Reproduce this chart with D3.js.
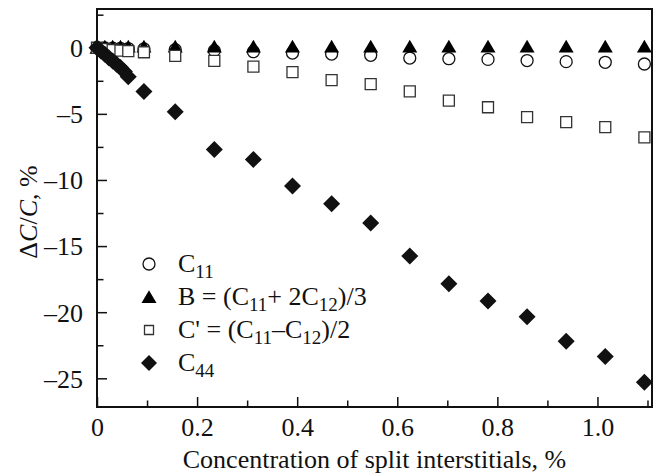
<title>Elastic constants vs split interstitials</title>
<body style="margin:0;background:#fff"></body>
<script src="https://d3js.org/d3.v7.min.js"></script>
<script>
// values
concA = [0, 0.0156, 0.0313, 0.0469, 0.0625, 0.0938, 0.1563, 0.2344, 0.3125, 0.3906, 0.4688,
         0.5469, 0.625, 0.7031, 0.7813, 0.8594, 0.9375, 1.0156, 1.0938]
c11 = [0, -0.02, -0.03, -0.05, -0.06, -0.09, -0.15, -0.22, -0.3, -0.4, -0.48,
       -0.57, -0.78, -0.83, -0.88, -0.97, -1.05, -1.1, -1.23]
bulk = [0, 0.1, 0.1, 0.1, 0.1, 0.1, 0.1, 0.1, 0.1, 0.1, 0.1,
        0.1, 0.1, 0.1, 0.1, 0.1, 0.1, 0.1, 0.1]
cprime = [0, -0.1, -0.17, -0.22, -0.25, -0.34, -0.62, -1.0, -1.43, -1.85, -2.45,
          -2.75, -3.3, -4.0, -4.5, -5.25, -5.62, -6.0, -6.78]
concB = [0, 0.0078, 0.0156, 0.0234, 0.0313, 0.0391, 0.0469, 0.0547, 0.0625, 0.0938, 0.1563,
         0.2344, 0.3125, 0.3906, 0.4688, 0.5469, 0.625, 0.7031, 0.7813, 0.8594, 0.9375, 1.0156, 1.0938]
c44 = [0, -0.25, -0.5, -0.75, -1.0, -1.25, -1.5, -1.8, -2.2, -3.3, -4.85,
       -7.7, -8.45, -10.45, -11.8, -13.25, -15.75, -17.85, -19.15, -20.35, -22.2, -23.35, -25.3]
xMajor = [0, 0.2, 0.4, 0.6, 0.8, 1.0]
xMinor = [0.1, 0.3, 0.5, 0.7, 0.9, 1.1]
yMajor = [0, -5, -10, -15, -20, -25]
yMinor = [2.5, -2.5, -7.5, -12.5, -17.5, -22.5]

W = 657, H = 474
L = 97, T = 9, R = 652, B = 407
font = '"Liberation Serif", "Times New Roman", serif'
fs = '26px', sub = '19px'

svg = d3.select('body').append('svg')
    .attr('width', W)
    .attr('height', H)
    .style('font-family', font)

x = d3.scaleLinear().domain([0, 1.109]).range([L, R])
y = d3.scaleLinear().domain([-27.17, 2.93]).range([B, T])

// marker shapes, s = size in px
function shape(kind, s) {
  const h = s / 2
  if (kind == 'circle') return `M${h},0A${h},${h} 0 1,1 ${-h},0A${h},${h} 0 1,1 ${h},0Z`
  if (kind == 'square') return `M${-h},${-h}H${h}V${h}H${-h}Z`
  if (kind == 'diamond') return `M0,${-h}L${h},0L0,${h}L${-h},0Z`
  if (kind == 'triangle') return `M0,${-h * 0.9}L${h},${h * 0.8}L${-h},${h * 0.8}Z`
}

series = [
  {name: 'c11', xs: concA, ys: c11, kind: 'circle', size: 12, fill: 'none', stroke: '#111'},
  {name: 'b', xs: concA, ys: bulk, kind: 'triangle', size: 15, fill: '#000', stroke: 'none'},
  {name: 'cp', xs: concA, ys: cprime, kind: 'square', size: 11, fill: '#fff', stroke: '#333'},
  {name: 'c44', xs: concB, ys: c44, kind: 'diamond', size: 17, fill: '#111', stroke: 'none'}
]

// axes with inward ticks
xaxis = d3.axisBottom(x).tickValues(xMajor).tickSize(-10).tickPadding(11)
    .tickFormat(d => d == 0 ? '0' : d3.format('.1f')(d))
xminor = d3.axisBottom(x).tickValues(xMinor).tickSize(-6.5).tickFormat('')
yaxis = d3.axisLeft(y).tickValues(yMajor).tickSize(-10).tickPadding(14)
    .tickFormat(d => d == 0 ? '0' : '\u2013' + Math.abs(d))
yminor = d3.axisLeft(y).tickValues(yMinor).tickSize(-6.5).tickFormat('')

gx = svg.append('g').attr('transform', `translate(0,${B})`).call(xaxis)
svg.append('g').attr('transform', `translate(0,${B})`).call(xminor)
gy = svg.append('g').attr('transform', `translate(${L},0)`).call(yaxis)
svg.append('g').attr('transform', `translate(${L},0)`).call(yminor)

svg.selectAll('.domain').remove()
svg.selectAll('.tick line').attr('stroke', '#111').attr('stroke-width', 1.5)
svg.selectAll('.tick text')
    .style('font-family', font)
    .style('font-size', fs)
    .attr('fill', '#111')
gx.selectAll('.tick text').attr('dy', '0.71em')
gy.selectAll('.tick text').attr('dy', '0.34em')

// frame
svg.append('rect')
    .attr('x', L).attr('y', T)
    .attr('width', R - L).attr('height', B - T)
    .attr('fill', 'none')
    .attr('stroke', '#111')
    .attr('stroke-width', 2)

// points
series.forEach(s => {
  svg.append('g').attr('class', s.name)
    .selectAll('path')
    .data(s.xs.map((c, i) => [c, s.ys[i]]))
    .join('path')
    .attr('d', shape(s.kind, s.size))
    .attr('transform', d => `translate(${x(d[0])},${y(d[1])})`)
    .attr('fill', s.fill)
    .attr('stroke', s.stroke)
    .attr('stroke-width', 1.3)
})

// legend
legend = [
  {kind: 'circle', size: 12, fill: 'none', stroke: '#111',
   parts: [['C', 0], ['11', 1]]},
  {kind: 'triangle', size: 15, fill: '#000', stroke: 'none',
   parts: [['B = (C', 0], ['11', 1], ['+ 2C', 0], ['12', 1], [')/3', 0]]},
  {kind: 'square', size: 9, fill: '#fff', stroke: '#333',
   parts: [["C' = (C", 0], ['11', 1], ['\u2013C', 0], ['12', 1], [')/2', 0]]},
  {kind: 'diamond', size: 16, fill: '#111', stroke: 'none',
   parts: [['C', 0], ['44', 1]]}
]
legY = [264, 297, 330, 363]

lg = svg.append('g')
legend.forEach((e, i) => {
  lg.append('path')
    .attr('d', shape(e.kind, e.size))
    .attr('transform', `translate(149,${legY[i]})`)
    .attr('fill', e.fill)
    .attr('stroke', e.stroke)
    .attr('stroke-width', 1.3)
  const t = lg.append('text')
    .attr('x', 178).attr('y', legY[i] + 8)
    .style('font-size', fs)
    .attr('fill', '#111')
  // a sub tspan goes down, the next normal one comes back up
  let prevSub = false
  e.parts.forEach(p => {
    const isSub = p[1] == 1
    t.append('tspan')
      .attr('dy', isSub ? 6 : (prevSub ? -6 : 0))
      .style('font-size', isSub ? sub : fs)
      .text(p[0])
    prevSub = isSub
  })
})

// axis titles
svg.append('text')
    .attr('x', (L + R) / 2).attr('y', 468)
    .attr('text-anchor', 'middle')
    .style('font-size', fs)
    .attr('fill', '#111')
    .text('Concentration of split interstitials, %')

yt = svg.append('text')
    .attr('transform', 'translate(37,212) rotate(-90)')
    .attr('text-anchor', 'middle')
    .style('font-size', fs)
    .attr('fill', '#111')
yt.append('tspan').text('\u0394')
yt.append('tspan').style('font-style', 'italic').text('C')
yt.append('tspan').text('/')
yt.append('tspan').style('font-style', 'italic').text('C')
yt.append('tspan').text(', %')
</script>
